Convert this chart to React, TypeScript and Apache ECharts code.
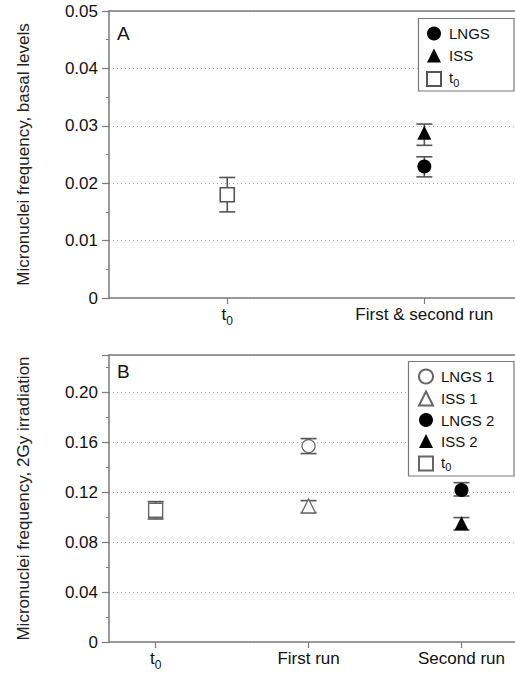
import React, { useEffect, useRef } from 'react';
import * as echarts from 'echarts';

const categoriesA = ['t0', 'First & second run'];
const categoriesB = ['t0', 'First run', 'Second run'];
const yTicksA = [0, 0.01, 0.02, 0.03, 0.04, 0.05];
const yTicksB = [0, 0.04, 0.08, 0.12, 0.16, 0.2];

// [category position (1-based), mean, low, high]
const aT0 = [[1, 0.018, 0.015, 0.021]];
const aLNGS = [[2, 0.0229, 0.0211, 0.0246]];
const aISS = [[2, 0.0288, 0.0266, 0.0303]];

const bT0 = [[1, 0.1056, 0.0986, 0.1125]];
const bLNGS1 = [[2, 0.157, 0.151, 0.163]];
const bISS1 = [[2, 0.109, 0.1037, 0.1133]];
const bLNGS2 = [[3, 0.1218, 0.117, 0.1277]];
const bISS2 = [[3, 0.0952, 0.0898, 0.0997]];

const FONT = 'Liberation Sans, Arial, Helvetica, sans-serif';
const AXIS = '#7a7a7a';
const ERR = '#555';
const OPEN = '#666';

const richAxis = {
  t: { fontSize: 17, fontFamily: FONT, color: '#111', lineHeight: 17, verticalAlign: 'top' },
  s: { fontSize: 12, fontFamily: FONT, color: '#111', padding: [9, 0, 0, 0], verticalAlign: 'bottom' },
};
const richLegend = {
  t: { fontSize: 15, fontFamily: FONT, color: '#111', lineHeight: 15, verticalAlign: 'top' },
  s: { fontSize: 11, fontFamily: FONT, color: '#111', padding: [7, 0, 0, 0], verticalAlign: 'bottom' },
};

const fmtName = (n: string) => (n === 't0' ? '{t|t}{s|0}' : n);

function errorBars(params: any, api: any) {
  const x = api.value(0);
  const lo = api.value(1);
  const hi = api.value(2);
  const pHi = api.coord([x, hi]);
  const pLo = api.coord([x, lo]);
  const w = 8;
  const style = { stroke: ERR, lineWidth: 1.6 };
  return {
    type: 'group',
    children: [
      { type: 'line', shape: { x1: pHi[0], y1: pHi[1], x2: pLo[0], y2: pLo[1] }, style },
      { type: 'line', shape: { x1: pHi[0] - w, y1: pHi[1], x2: pHi[0] + w, y2: pHi[1] }, style },
      { type: 'line', shape: { x1: pLo[0] - w, y1: pLo[1], x2: pLo[0] + w, y2: pLo[1] }, style },
    ],
  };
}

function xAxisFor(gridIndex: number, cats: string[], min: number, max: number) {
  const pos = cats.map((_, i) => i + 1);
  return [
    {
      type: 'value',
      gridIndex,
      min,
      max,
      position: 'bottom',
      axisLine: { show: true, lineStyle: { color: AXIS, width: 1.5 } },
      axisTick: { show: true, customValues: pos, length: 6, lineStyle: { color: AXIS, width: 1.2 } },
      axisLabel: {
        customValues: pos,
        margin: 8,
        fontSize: 17,
        fontFamily: FONT,
        color: '#111',
        formatter: (v: number) => fmtName(cats[Math.round(v) - 1] ?? ''),
        rich: richAxis,
      },
      splitLine: { show: false },
    },
    {
      type: 'value',
      gridIndex,
      min,
      max,
      position: 'top',
      axisLine: { show: true, onZero: false, lineStyle: { color: AXIS, width: 1.5 } },
      axisTick: { show: false },
      axisLabel: { show: false },
      splitLine: { show: false },
    },
  ];
}

function yAxisFor(gridIndex: number, ticks: number[], max: number, interval: number, name: string) {
  const top = ticks[ticks.length - 1];
  return {
    type: 'value',
    gridIndex,
    min: 0,
    max,
    interval,
    name,
    nameLocation: 'middle',
    nameGap: 77,
    nameTextStyle: { fontSize: 17, fontFamily: FONT, color: '#222' },
    axisLine: { show: true, lineStyle: { color: AXIS, width: 1.5 } },
    axisTick: { show: true, length: 7, lineStyle: { color: AXIS, width: 1.2 } },
    minorTick: { show: true, splitNumber: 2, length: 3, lineStyle: { color: AXIS, width: 1 } },
    axisLabel: {
      margin: 11,
      fontSize: 17,
      fontFamily: FONT,
      color: '#111',
      formatter: (v: number) => (v > top + 1e-9 ? '' : v === 0 ? '0' : v.toFixed(2)),
    },
    splitLine: { show: true, lineStyle: { color: '#aaa', type: [1, 3], width: 1 } },
  };
}

const legendBase = {
  orient: 'vertical',
  itemWidth: 14,
  itemHeight: 14,
  selectedMode: false,
  textStyle: { fontSize: 15, fontFamily: FONT, color: '#111', rich: richLegend, padding: [0, 0, 0, 3] },
};

export default function App() {
  const ref = useRef<HTMLDivElement>(null);
  useEffect(() => {
    if (!ref.current) return;
    const chart = echarts.init(ref.current, undefined, { renderer: 'svg' });
    const pick = (arr: number[][]) => arr.map((d) => [d[0], d[1]]);
    const errs = (arr: number[][]) => arr.map((d) => [d[0], d[2], d[3]]);
    const filled = { color: '#000', opacity: 1 };
    const boxStyle = { fill: '#fff', stroke: AXIS, lineWidth: 1.2 };
    const option: any = {
      animation: false,
      backgroundColor: '#fff',
      graphic: [
        { type: 'rect', shape: { x: 418.5, y: 18.5, width: 95.5, height: 72.5 }, style: boxStyle, z: 3 },
        { type: 'rect', shape: { x: 408.5, y: 361.5, width: 105.5, height: 114.5 }, style: boxStyle, z: 3 },
      ],
      title: [
        { text: 'A', left: 117, top: 24, padding: 0, textStyle: { fontSize: 19, fontWeight: 'normal', fontFamily: FONT, color: '#111' } },
        { text: 'B', left: 117, top: 362, padding: 0, textStyle: { fontSize: 19, fontWeight: 'normal', fontFamily: FONT, color: '#111' } },
      ],
      grid: [
        { left: 109, top: 11, width: 406, height: 287 },
        { left: 109, top: 355, width: 406, height: 287 },
      ],
      xAxis: [...xAxisFor(0, categoriesA, 0.4, 2.46), ...xAxisFor(1, categoriesB, 0.695, 3.35)],
      yAxis: [
        yAxisFor(0, yTicksA, 0.05, 0.01, 'Micronuclei frequency, basal levels'),
        yAxisFor(1, yTicksB, 0.23, 0.04, 'Micronuclei frequency, 2Gy irradiation'),
      ],
      legend: [
        {
          ...legendBase,
          data: ['LNGS', 'ISS', 't0'],
          left: 418,
          top: 18,
          padding: [8, 0, 3, 8],
          itemGap: 7,
          formatter: fmtName,
          z: 5,
        },
        {
          ...legendBase,
          data: ['LNGS 1', 'ISS 1', 'LNGS 2', 'ISS 2', 't0 '],
          left: 408,
          top: 361,
          padding: [7.5, 0, 3, 10],
          itemGap: 6,
          formatter: (n: string) => fmtName(n.trim()),
          z: 5,
        },
      ],
      series: [
        { type: 'custom', name: 'errA', xAxisIndex: 0, yAxisIndex: 0, data: errs([...aT0, ...aLNGS, ...aISS]), renderItem: errorBars, encode: { x: 0, y: [1, 2] }, z: 1 },
        { type: 'custom', name: 'errB', xAxisIndex: 2, yAxisIndex: 1, data: errs([...bT0, ...bLNGS1, ...bISS1, ...bLNGS2, ...bISS2]), renderItem: errorBars, encode: { x: 0, y: [1, 2] }, z: 1 },
        { type: 'scatter', name: 'LNGS', xAxisIndex: 0, yAxisIndex: 0, data: pick(aLNGS), symbol: 'circle', symbolSize: 14, itemStyle: filled, z: 2 },
        { type: 'scatter', name: 'ISS', xAxisIndex: 0, yAxisIndex: 0, data: pick(aISS), symbol: 'triangle', symbolSize: 14, itemStyle: filled, z: 2 },
        { type: 'scatter', name: 't0', xAxisIndex: 0, yAxisIndex: 0, data: pick(aT0), symbol: 'rect', symbolSize: 14, itemStyle: { color: '#fff', opacity: 1, borderColor: ERR, borderWidth: 1.6 }, z: 2 },
        { type: 'scatter', name: 'LNGS 1', xAxisIndex: 2, yAxisIndex: 1, data: pick(bLNGS1), symbol: 'circle', symbolSize: 13, itemStyle: { color: '#fff', opacity: 1, borderColor: OPEN, borderWidth: 1.3 }, z: 2 },
        { type: 'scatter', name: 'ISS 1', xAxisIndex: 2, yAxisIndex: 1, data: pick(bISS1), symbol: 'triangle', symbolSize: 14, itemStyle: { color: '#fff', opacity: 1, borderColor: OPEN, borderWidth: 1.3 }, z: 2 },
        { type: 'scatter', name: 'LNGS 2', xAxisIndex: 2, yAxisIndex: 1, data: pick(bLNGS2), symbol: 'circle', symbolSize: 14, itemStyle: filled, z: 2 },
        { type: 'scatter', name: 'ISS 2', xAxisIndex: 2, yAxisIndex: 1, data: pick(bISS2), symbol: 'triangle', symbolSize: 14, itemStyle: filled, z: 2 },
        { type: 'scatter', name: 't0 ', xAxisIndex: 2, yAxisIndex: 1, data: pick(bT0), symbol: 'rect', symbolSize: 14, itemStyle: { color: '#fff', opacity: 1, borderColor: OPEN, borderWidth: 1.4 }, z: 2 },
      ],
    };
    chart.setOption(option);
    return () => chart.dispose();
  }, []);
  return <div ref={ref} style={{ position: 'absolute', left: 0, top: 0, width: 515, height: 677 }} />;
}
